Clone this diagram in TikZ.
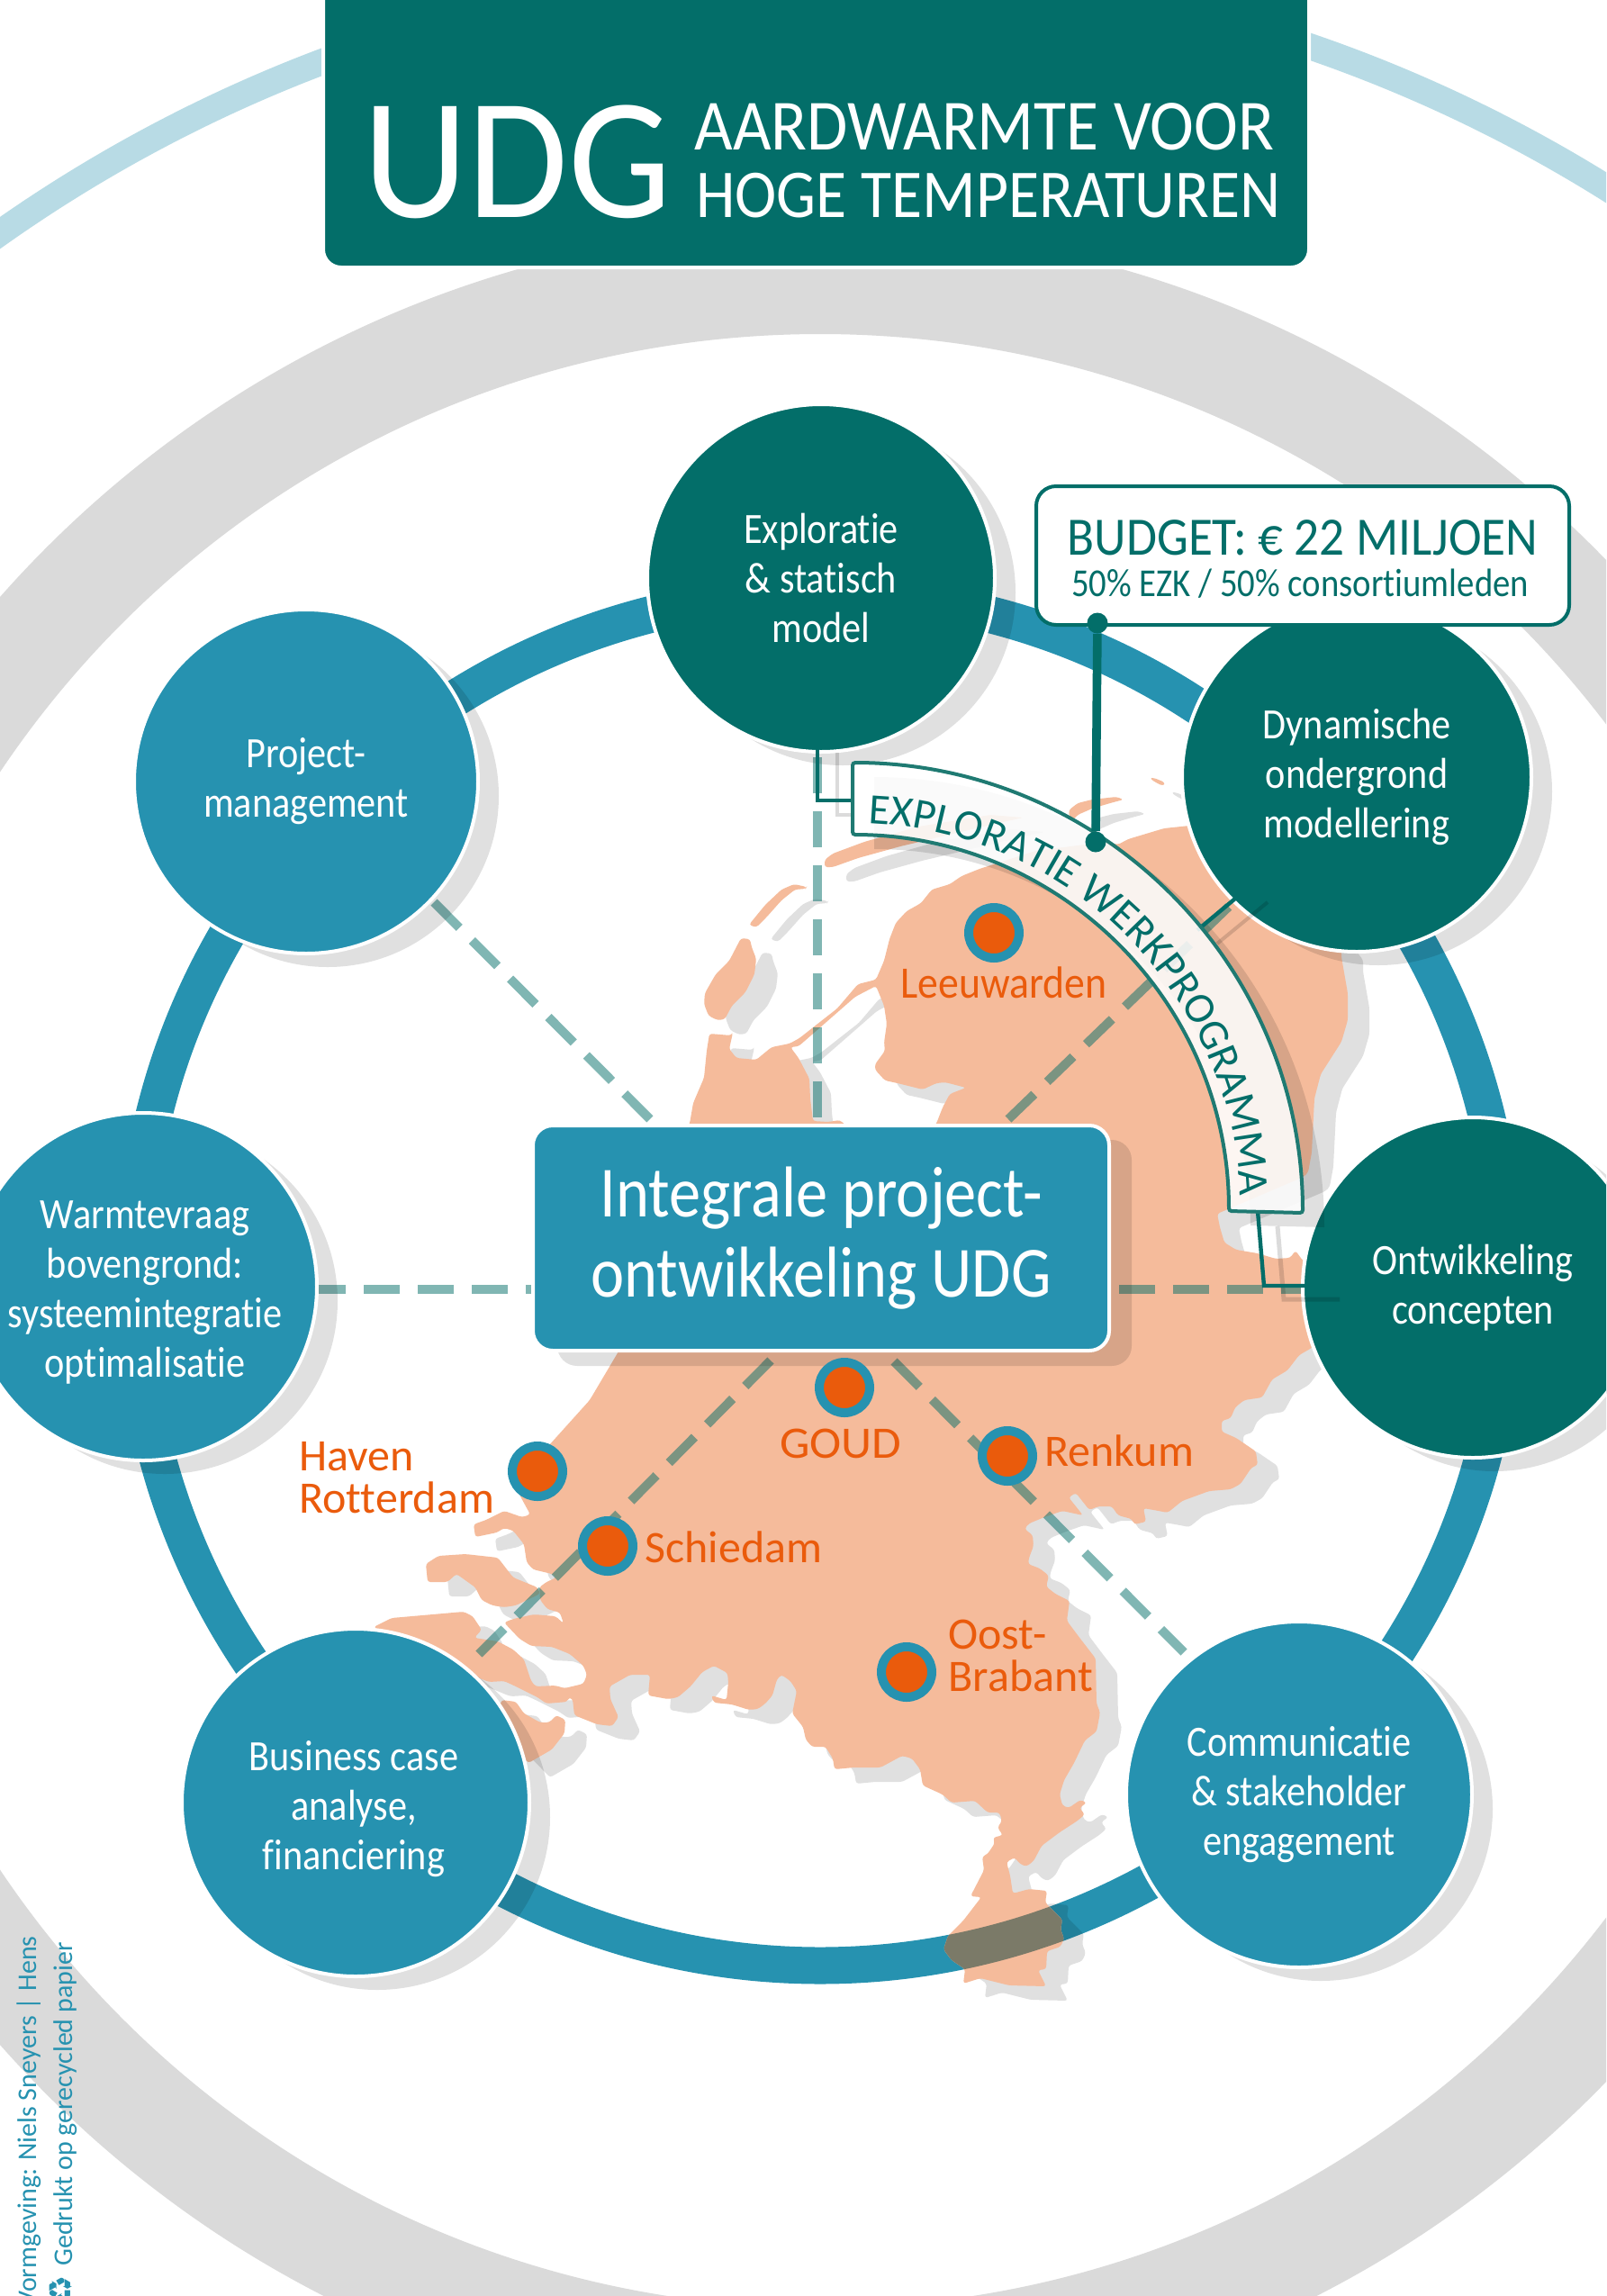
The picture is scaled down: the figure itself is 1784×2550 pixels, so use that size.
\documentclass[tikz,border=0pt]{standalone}
\usepackage{fontspec}
\usepackage{graphicx}
\setmainfont[FakeStretch=0.88,RawFeature={-liga;-clig}]{Carlito}
\newfontfamily\wfont[RawFeature={-liga;-clig}]{Carlito}
\newfontfamily\dejavu{DejaVu Sans}
\usetikzlibrary{decorations.text}
\definecolor{uteal}{HTML}{036E69}
\definecolor{ublue}{HTML}{2692B0}
\definecolor{upeach}{HTML}{F5BB9B}
\definecolor{uorange}{HTML}{EA5B0C}
\definecolor{ugray}{HTML}{DADADA}
\definecolor{ulight}{HTML}{B8DBE5}
\definecolor{uring}{HTML}{7B7A68}
\definecolor{uline}{HTML}{1F7A72}
\newcommand{\fsz}[2]{\fontsize{#1}{#2}\selectfont}
\newcommand{\mapPath}{
 (610,1605)--(655,1555)--(687,1501)--(720,1440)--(760,1260)--(766,1248)--(770,1225)--(782,1197)--(785,1167)--(788,1148)--(812,1150)--(814,1147)--(810,1165)--(818,1175)--(840,1177)--(857,1163)--(877,1159)--(888,1153)--(907,1138)--(930,1120)--(953,1093)--(973,1088)--(982,1067)--(988,1043)--(995,1025)--(1007,1012)--(1023,1003)--(1035,988)--(1055,982)--(1068,973)--(1088,965)--(1150,945)--(1228,935)--(1242,938)--(1253,932)--(1293,920)--(1340,915)--(1450,1000)--(1490,1050)--(1490,1063)--(1497,1103)--(1497,1133)--(1490,1157)--(1467,1193)--(1460,1220)--(1457,1280)--(1453,1302)--(1448,1307)--(1352,1348)--(1355,1363)--(1360,1380)--(1373,1388)--(1397,1392)--(1417,1398)--(1433,1397)--(1439,1389)--(1447,1400)--(1480,1420)--(1480,1470)--(1457,1497)--(1443,1505)--(1430,1522)--(1413,1532)--(1402,1552)--(1382,1555)--(1372,1563)--(1367,1575)--(1357,1578)--(1357,1590)--(1373,1597)--(1395,1612)--(1397,1627)--(1390,1630)--(1378,1648)--(1367,1654)--(1343,1656)--(1313,1667)--(1297,1680)--(1287,1678)--(1270,1675)--(1273,1690)--(1260,1693)--(1257,1687)--(1242,1683)--(1235,1673)--(1220,1673)--(1210,1677)--(1195,1658)--(1187,1663)--(1203,1683)--(1180,1678)--(1160,1685)--(1143,1692)--(1138,1698)--(1147,1705)--(1148,1717)--(1143,1730)--(1142,1737)--(1155,1742)--(1165,1750)--(1162,1762)--(1172,1770)--(1188,1778)--(1185,1800)--(1200,1820)--(1217,1842)--(1218,1892)--(1222,1902)--(1218,1923)--(1205,1933)--(1193,1958)--(1182,1977)--(1177,1993)--(1180,2005)--(1187,2008)--(1200,1999)--(1207,2002)--(1199,2008)--(1205,2015)--(1197,2022)--(1177,2035)--(1157,2050)--(1148,2067)--(1140,2073)--(1133,2070)--(1127,2063)--(1118,2068)--(1122,2083)--(1125,2103)--(1143,2098)--(1163,2100)--(1161,2113)--(1180,2132)--(1178,2143)--(1182,2153)--(1178,2162)--(1163,2167)--(1162,2187)--(1153,2188)--(1158,2198)--(1162,2206)--(1121,2205)--(1089,2197)--(1070,2203)--(1072,2187)--(1057,2177)--(1048,2165)--(1053,2150)--(1070,2133)--(1080,2120)--(1090,2107)--(1078,2106)--(1093,2077)--(1091,2062)--(1097,2059)--(1105,2047)--(1103,2041)--(1114,2038)--(1108,2030)--(1113,2022)--(1110,2013)--(1097,2013)--(1083,2000)--(1057,2002)--(1047,1993)--(1025,1983)--(1022,1965)--(1013,1953)--(1002,1950)--(978,1963)--(948,1963)--(927,1965)--(925,1953)--(917,1940)--(902,1940)--(895,1932)--(892,1918)--(880,1903)--(885,1878)--(878,1867)--(868,1860)--(863,1865)--(858,1883)--(850,1892)--(842,1898)--(832,1899)--(813,1893)--(793,1891)--(790,1883)--(807,1888)--(809,1868)--(808,1858)--(793,1850)--(780,1857)--(767,1873)--(753,1885)--(742,1887)--(720,1883)--(722,1860)--(700,1860)--(677,1873)--(678,1887)--(687,1907)--(680,1917)--(663,1915)--(638,1905)--(636,1887)--(632,1885)--(630,1890)--(607,1892)--(597,1885)--(573,1873)--(560,1867)--(543,1868)--(467,1837)--(415,1807)--(435,1797)--(515,1790)--(525,1795)--(535,1810)--(527,1819)--(553,1823)--(570,1832)--(582,1843)--(590,1867)--(595,1873)--(617,1872)--(627,1875)--(648,1870)--(652,1860)--(648,1850)--(633,1837)--(613,1829)--(590,1828)--(577,1820)--(560,1802)--(570,1798)--(593,1793)--(617,1795)--(626,1803)--(622,1791)--(608,1787)--(600,1777)--(599,1763)--(607,1757)--(618,1752)--(613,1748)--(592,1743)--(585,1735)--(582,1715)--(570,1700)--(560,1697)--(552,1702)--(528,1707)--(526,1693)--(540,1688)--(560,1678)--(580,1685)--(589,1682)--(577,1660)--cycle
 (878,1163)--(887,1175)--(899,1198)--(900,1220)--(903,1245)--(920,1246)--(933,1244)--(945,1255)--(1000,1300)--(1040,1248)--(1047,1230)--(1055,1215)--(1073,1208)--(1050,1202)--(1040,1203)--(1025,1210)--(1013,1207)--(997,1203)--(983,1200)--(972,1188)--(972,1182)--(983,1167)--(982,1158)--(985,1137)--(982,1117)--(973,1095)--(950,1107)--(910,1142)--(887,1162)--cycle
 (473,1737)--(487,1728)--(517,1726)--(553,1730)--(570,1752)--(597,1763)--(600,1770)--(573,1783)--(560,1785)--(547,1783)--(535,1777)--(528,1763)--(507,1748)--(497,1757)--(475,1757)--cycle
 (557,1888)--(573,1890)--(582,1903)--(600,1913)--(610,1913)--(618,1905)--(628,1910)--(627,1925)--(613,1943)--(587,1958)--(550,1920)--cycle
 (782,1115)--(783,1103)--(795,1082)--(810,1067)--(823,1042)--(833,1043)--(835,1052)--(840,1065)--(838,1082)--(828,1102)--(813,1117)--(805,1132)--(797,1133)--(787,1128)--cycle
 (832,1027)--(850,1005)--(868,988)--(882,982)--(896,985)--(895,987)--(883,988)--(868,1000)--(852,1018)--(840,1030)--cycle
 (916,963)--(916,955)--(925,948)--(960,935)--(1020,918)--(1100,905)--(1137,908)--(1105,915)--(1000,940)--(953,953)--(925,963)--cycle
 (1187,900)--(1197,892)--(1213,888)--(1240,885)--(1248,888)--(1233,892)--(1213,898)--(1197,905)--(1190,913)--(1188,907)--cycle
 (1277,864)--(1282,864)--(1294,869)--(1292,873)--(1282,868)--cycle
}
\newcommand{\bannerPath}{
 (947,847) arc[start angle=-90,end angle=0,radius=500] -- (1365,1345) arc[start angle=0,end angle=-90,radius=418] -- cycle
}
\tikzset{
 shadowfill/.style={fill=black,fill opacity=0.12,draw=none},
 shadowline/.style={draw=black,draw opacity=0.14,line width=2pt},
 dashline/.style={draw=uteal,draw opacity=0.5,line width=5pt,dash pattern=on 20pt off 10pt},
 tealline/.style={draw=uteal,line width=2.2pt},
 bubble/.style={circle,draw=white,line width=2pt,text=white,align=center,inner sep=0pt,font=\fsz{24}{27.5}},
 blueb/.style={bubble,fill=ublue},
 tealb/.style={bubble,fill=uteal},
 bubbletext/.style={text=white,align=center,inner sep=0pt,font=\fsz{24}{27.5}},
 label/.style={text=uorange,anchor=base west,inner sep=0pt,align=left,font=\wfont\fsz{25}{23.5}},
 citydot/.style={circle,fill=uorange,draw=ublue,line width=5pt,minimum size=28pt,inner sep=0pt},
 enddot/.style={circle,fill=uteal,minimum size=11.5pt,inner sep=0pt},
 titletext/.style={text=white,anchor=base west,inner sep=0pt},
 credit/.style={text=ublue,rotate=90,anchor=base east,inner sep=0pt,font=\wfont\fsz{15}{15}},
}
\begin{document}
\begin{tikzpicture}[x=0.5pt,y=-0.5pt]
\useasboundingbox (0,0) rectangle (1784,2550);
\clip (0,0) rectangle (1784,2550);
\fill[white] (0,0) rectangle (1784,2550);
% big rings
\fill[ugray,even odd rule] (911,1467) circle (1215) (911,1467) circle (1096);
\fill[ulight,even odd rule] (930,1581) circle (1631) (930,1581) circle (1602);
% blue ring
\draw[ublue,line width=20.5pt] (911,1421) circle (762);
% map
\fill[shadowfill,even odd rule,rounded corners=1.5pt,shift={(24,16)}] \mapPath;
\fill[upeach,even odd rule,rounded corners=1.5pt] \mapPath;
\begin{scope}
\clip[rounded corners=1.5pt] \mapPath;
\draw[uring,line width=20.5pt] (911,1421) circle (762);
\end{scope}
% dashed spokes
\coordinate (s1a) at (908,1241); \coordinate (s1b) at (908,833);
\coordinate (s2a) at (482,1002); \coordinate (s2b) at (723,1244);
\coordinate (s3a) at (1120,1243); \coordinate (s3b) at (1372,1000);
\coordinate (s4a) at (344,1432); \coordinate (s4b) at (592,1432);
\coordinate (s5a) at (1243,1432); \coordinate (s5b) at (1450,1432);
\coordinate (s6a) at (856,1511); \coordinate (s6b) at (532,1837);
\coordinate (s7a) at (993,1512); \coordinate (s7b) at (1315,1835);
\draw[dashline] (s1a)--(s1b);
\draw[dashline] (s2a)--(s2b);
\draw[dashline] (s3a)--(s3b);
\draw[dashline] (s4a)--(s4b);
\draw[dashline] (s5a)--(s5b);
\draw[dashline] (s6a)--(s6b);
\draw[dashline] (s7a)--(s7b);
% circle shadows
\fill[shadowfill] (936,658) circle (192);
\fill[shadowfill] (1531,879) circle (193);
\fill[shadowfill] (1660,1446) circle (188);
\fill[shadowfill] (1467,2009) circle (191);
\fill[shadowfill] (419,2018) circle (192);
\fill[shadowfill] (183,1445) circle (192);
\fill[shadowfill] (364,884) circle (190);
% box shadow
\fill[shadowfill,rounded corners=11pt] (619,1266) rectangle (1257,1517);
% circles
\node[tealb,minimum size=193pt] (c1) at (912,642) {Exploratie\\\& statisch\\model};
\node[tealb,minimum size=194pt] (c2) at (1507,863) {Dynamische\\ondergrond\\modellering};
\node[tealb,minimum size=189pt] (c3) at (1636,1430) {Ontwikkeling\\concepten};
\node[blueb,minimum size=192pt] (c4) at (1443,1993) {Communicatie\\\& stakeholder\\engagement};
\node[blueb,minimum size=193pt] (c5) at (395,2002) {};
\node[bubbletext] (c5t) at (393,2009) {Business case\\analyse,\\financiering};
\node[blueb,minimum size=193pt] (c6) at (159,1429) {};
\node[bubbletext] (c6t) at (161,1435) {Warmtevraag\\bovengrond:\\systeemintegratie\\optimalisatie};
\node[blueb,minimum size=191pt] (c7) at (340,868) {Project-\\management};
% central box
\node[rectangle,rounded corners=11pt,fill=ublue,draw=white,line width=2pt,text=white,align=center,inner sep=0pt,minimum width=320pt,minimum height=125pt,font=\fsz{40}{44.5}] (box) at (912,1375) {Integrale project-\\ontwikkeling UDG};
% city dots and labels
\node[citydot] (d1) at (1104,1036) {};
\node[citydot] (d2) at (938,1541) {};
\node[citydot] (d3) at (597,1634) {};
\node[citydot] (d4) at (675,1717) {};
\node[citydot] (d5) at (1119,1617) {};
\node[citydot] (d6) at (1007,1857) {};
\node[label] (l1) at (1000,1108) {\scalebox{.915}[1]{Leeuwarden}};
\node[label] (l2) at (866,1619) {\scalebox{1.06}[1]{GOUD}};
\node[label] (l3) at (332,1680) {Haven\\Rotterdam};
\node[label] (l4) at (716,1735) {Schiedam};
\node[label] (l5) at (1160,1628) {Renkum};
\node[label] (l6) at (1053,1878) {Oost-\\Brabant};
% banner
\fill[shadowfill,shift={(24,16)}] \bannerPath;
\coordinate (b1) at (947,889); \coordinate (b2) at (1330,1033); \coordinate (b3) at (1397,1345);
\coordinate (k1) at (908,889); \coordinate (k3) at (1404,1428);
\coordinate (e1) at (908,832); \coordinate (e2) at (1372,998); \coordinate (e3) at (1450,1428);
\coordinate (sh1a) at (930,836); \coordinate (sh1b) at (930,905); \coordinate (sh1c) at (947,905);
\coordinate (sh2a) at (1408,1002); \coordinate (sh2b) at (1352,1048);
\coordinate (sh3a) at (1419,1362); \coordinate (sh3b) at (1426,1443); \coordinate (sh3c) at (1488,1443);
\draw[shadowline] (sh1a)--(sh1b)--(sh1c);
\draw[shadowline] (sh2a)--(sh2b);
\draw[shadowline,line width=2.5pt] (sh3a)--(sh3b)--(sh3c);
\draw[tealline] (e1)--(k1)--(b1);
\draw[tealline] (e2)--(b2);
\draw[tealline] (b3)--(k3)--(e3);
\path[fill=white,fill opacity=0.87,draw=uline,line width=2pt,rounded corners=1.5pt] \bannerPath;
\path[decorate,decoration={text along path,text align=center,text={|\wfont\fsz{24}{24}\color{uteal}|EXPLORATIE WERKPROGRAMMA}}] (947,914) arc[start angle=-90,end angle=0,radius=431];
% budget
\node[rectangle,rounded corners=11pt,fill=white,draw=uteal,line width=2pt,text=uteal,align=center,inner sep=0pt,minimum width=296pt,minimum height=77pt] (budget) at (1447,617) {};
\node[text=uteal,anchor=base,inner sep=0pt,font=\fsz{30}{30}] (bt1) at (1447,616) {\scalebox{1.046}[1]{BUDGET: € 22 MILJOEN}};
\node[text=uteal,anchor=base,inner sep=0pt,font=\fsz{22}{22}] (bt2) at (1444,662) {50\% EZK / 50\% consortiumleden};
\node[enddot] (dA) at (1219,692) {};
\node[enddot] (dB) at (1217,935) {};
\draw[uteal,line width=4.8pt] (dA)--(dB);
% title
\fill[uteal,draw=white,line width=2pt,rounded corners=10pt] (359,-60) rectangle (1454,297);
\node[titletext,font=\fsz{96}{96}] (tU) at (403,241) {\scalebox{1.074}[1]{UDG}};
\node[titletext,font=\fsz{40}{40}] (t1) at (771,166) {\scalebox{1.045}[1]{AARDWARMTE VOOR}};
\node[titletext,font=\fsz{38}{38}] (t2) at (773,241) {\scalebox{1.042}[1]{HOGE TEMPERATUREN}};
% credits
\node[credit] (cr1) at (40,2150) {Vormgeving: Niels Sneyers | Hens};
\node[credit] (cr2) at (80,2157) {Gedrukt op gerecycled papier};
\node[text=ublue,rotate=90,anchor=base,inner sep=0pt,font=\dejavu\fsz{18}{18}] (cr3) at (80,2543) {♻};
\end{tikzpicture}
\end{document}
